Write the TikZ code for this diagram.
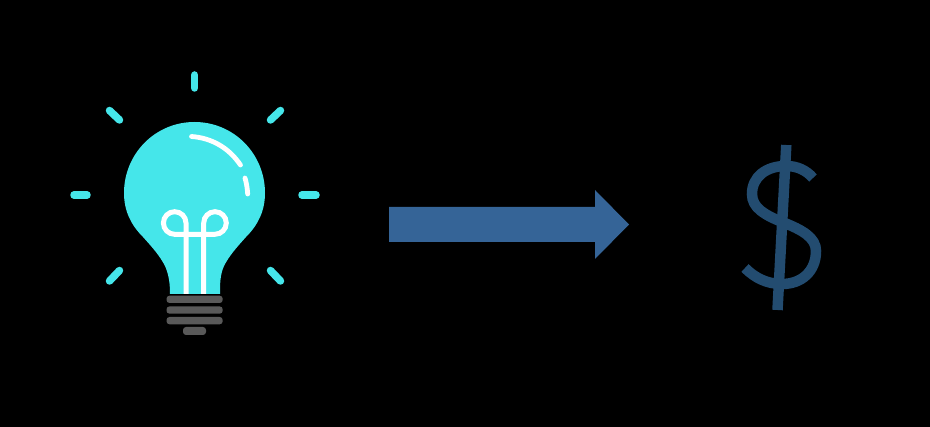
\documentclass[tikz,border=0pt]{standalone}
\usepackage{xcolor}
\definecolor{bulbcyan}{HTML}{45E6EA}
\definecolor{basegrey}{HTML}{595959}
\definecolor{arrowblue}{HTML}{356497}
\definecolor{dollarblue}{HTML}{234C70}
\tikzset{
  ray/.style={draw=bulbcyan, line width=7.5pt, line cap=round},
  glow/.style={draw=white, line width=4.8pt, line cap=round},
  filament/.style={draw=white, line width=5pt},
  basebar/.style={fill=basegrey, rounded corners=3pt},
  dollarline/.style={draw=dollarblue, line width=10.5pt},
}
\begin{document}
\begin{tikzpicture}[x=1pt, y=-1pt]

  % --- Page ---
  \fill[black] (0, 0) rectangle (930, 427);
  \useasboundingbox (0, 0) rectangle (930, 427);

  % --- Rays round the bulb ---
  \draw[ray] (194.7, 75) -- (194.7, 88);
  \draw[ray] (109.5, 110.5) -- (119.5, 120);
  \draw[ray] (280.5, 110.5) -- (270.5, 120);
  \draw[ray] (74, 195) -- (87, 195);
  \draw[ray] (302, 195) -- (316, 195);
  \draw[ray] (119.5, 270.5) -- (109.5, 281);
  \draw[ray] (270.5, 270.5) -- (280.5, 281);

  % --- Glass ---
  \fill[bulbcyan] (170, 294)
    .. controls (170, 284) and (169, 275) .. (165, 266)
    .. controls (160, 256) and (152, 247) .. (143, 237)
    .. controls (131, 225) and (124, 211) .. (124, 193)
    .. controls (124, 154) and (155, 122) .. (194.5, 122)
    .. controls (234, 122) and (265, 154) .. (265, 193)
    .. controls (265, 211) and (258, 225) .. (246, 237)
    .. controls (237, 247) and (229, 256) .. (224, 266)
    .. controls (220, 275) and (220, 284) .. (220, 294)
    -- cycle;

  % --- Highlight on the glass ---
  \draw[glow] (191.5, 136.5) .. controls (212, 138) and (229, 148) .. (240.5, 165);
  \draw[glow] (245, 178) .. controls (246.5, 183) and (247.3, 188) .. (247.7, 194);

  % --- Filament ---
  \draw[filament] (186, 294) -- (186, 223)
    arc[start angle=0, end angle=-270, radius=11.3] -- (215, 234.3)
    arc[start angle=90, end angle=-180, radius=11.3] -- (203.7, 294);

  % --- Screw base ---
  \fill[basebar] (166.5, 295.7) rectangle (222.7, 303);
  \fill[basebar] (166.5, 306.4) rectangle (222.7, 313.7);
  \fill[basebar] (166.5, 317) rectangle (222.7, 324.3);
  \fill[basebar] (183, 327) rectangle (206, 335);

  % --- Big arrow ---
  \fill[arrowblue] (389, 207) -- (595, 207) -- (595, 190) -- (629, 224.5)
    -- (595, 259) -- (595, 242) -- (389, 242) -- cycle;

  % --- Dollar sign ---
  \draw[dollarline] (813, 178)
    .. controls (806, 170) and (797, 166) .. (786, 166)
    .. controls (766, 166) and (752, 177) .. (752, 194)
    .. controls (752, 208) and (765, 215) .. (782, 222)
    .. controls (803, 230) and (816, 238) .. (816, 251)
    .. controls (816, 271) and (802, 284) .. (782, 284)
    .. controls (767, 284) and (755, 278) .. (745, 268);
  \draw[dollarline] (786.3, 145) -- (777.5, 310);

\end{tikzpicture}
\end{document}
